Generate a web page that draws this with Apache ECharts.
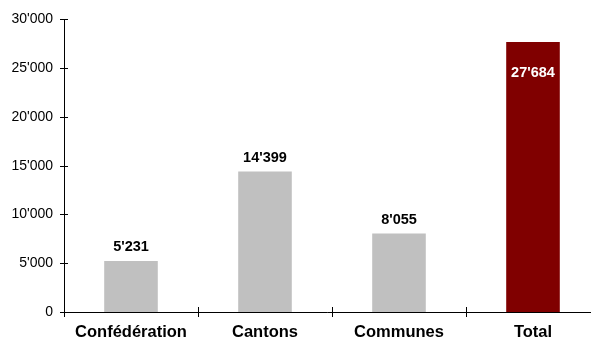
<!DOCTYPE html>
<html>
<head>
<meta charset="utf-8">
<script src="https://cdn.jsdelivr.net/npm/echarts@6/dist/echarts.min.js"></script>
<style>
  html, body { margin: 0; padding: 0; background: #fff; }
  #chart { width: 591px; height: 343px; }
</style>
</head>
<body>
<div id="chart"></div>
<script>
// Dépenses par niveau institutionnel
const categories = ['Confédération', 'Cantons', 'Communes', 'Total'];
const values = [5231, 14399, 8055, 27684];
const yTicks = [0, 5000, 10000, 15000, 20000, 25000, 30000];

const fmt = v => String(Math.round(v)).replace(/\B(?=(\d{3})+(?!\d))/g, "'");

const FONT = 'Liberation Sans, Arial, sans-serif';

const barData = values.map((v, i) => {
  const isTotal = categories[i] === 'Total';
  return {
    value: v,
    itemStyle: { color: isTotal ? '#800000' : '#c0c0c0' },
    label: isTotal
      ? { position: 'insideTop', distance: 23, color: '#ffffff' }
      : { position: 'top', distance: 6, color: '#000000' }
  };
});

const chart = echarts.init(document.getElementById('chart'));
chart.setOption({
  animation: false,
  // the plot runs a little past the right edge of the canvas
  grid: { left: 64, width: 536, top: 19.5, bottom: 31, containLabel: false, outerBoundsMode: 'none' },
  xAxis: [
    {
      type: 'category',
      data: categories,
      axisLine: { lineStyle: { color: '#000', width: 1 } },
      axisTick: { show: true, inside: false, length: 5, lineStyle: { color: '#000' } },
      axisLabel: { interval: 0, hideOverlap: false, fontFamily: FONT, fontWeight: 'bold', fontSize: 16.5, color: '#000', margin: 12 }
    },
    {
      type: 'category',
      data: categories,
      position: 'bottom',
      axisLine: { show: false },
      axisTick: { show: true, inside: true, length: 5, lineStyle: { color: '#000' } },
      axisLabel: { show: false }
    }
  ],
  yAxis: [
    {
      type: 'value',
      min: yTicks[0],
      max: yTicks[yTicks.length - 1],
      interval: yTicks[1] - yTicks[0],
      splitLine: { show: false },
      axisLine: { show: true, lineStyle: { color: '#000', width: 1 } },
      axisTick: { show: true, inside: false, length: 4, lineStyle: { color: '#000' } },
      axisLabel: { fontFamily: FONT, fontSize: 14, color: '#000', margin: 11, formatter: fmt }
    },
    {
      type: 'value',
      position: 'left',
      min: yTicks[0],
      max: yTicks[yTicks.length - 1],
      interval: yTicks[1] - yTicks[0],
      splitLine: { show: false },
      axisLine: { show: false },
      axisTick: { show: true, inside: true, length: 4, lineStyle: { color: '#000' } },
      axisLabel: { show: false }
    }
  ],
  series: [{
    type: 'bar',
    data: barData,
    barWidth: '40%',
    label: {
      show: true,
      fontFamily: FONT,
      fontWeight: 'bold',
      fontSize: 14.5,
      formatter: p => fmt(p.value)
    }
  }]
});
</script>
</body>
</html>
